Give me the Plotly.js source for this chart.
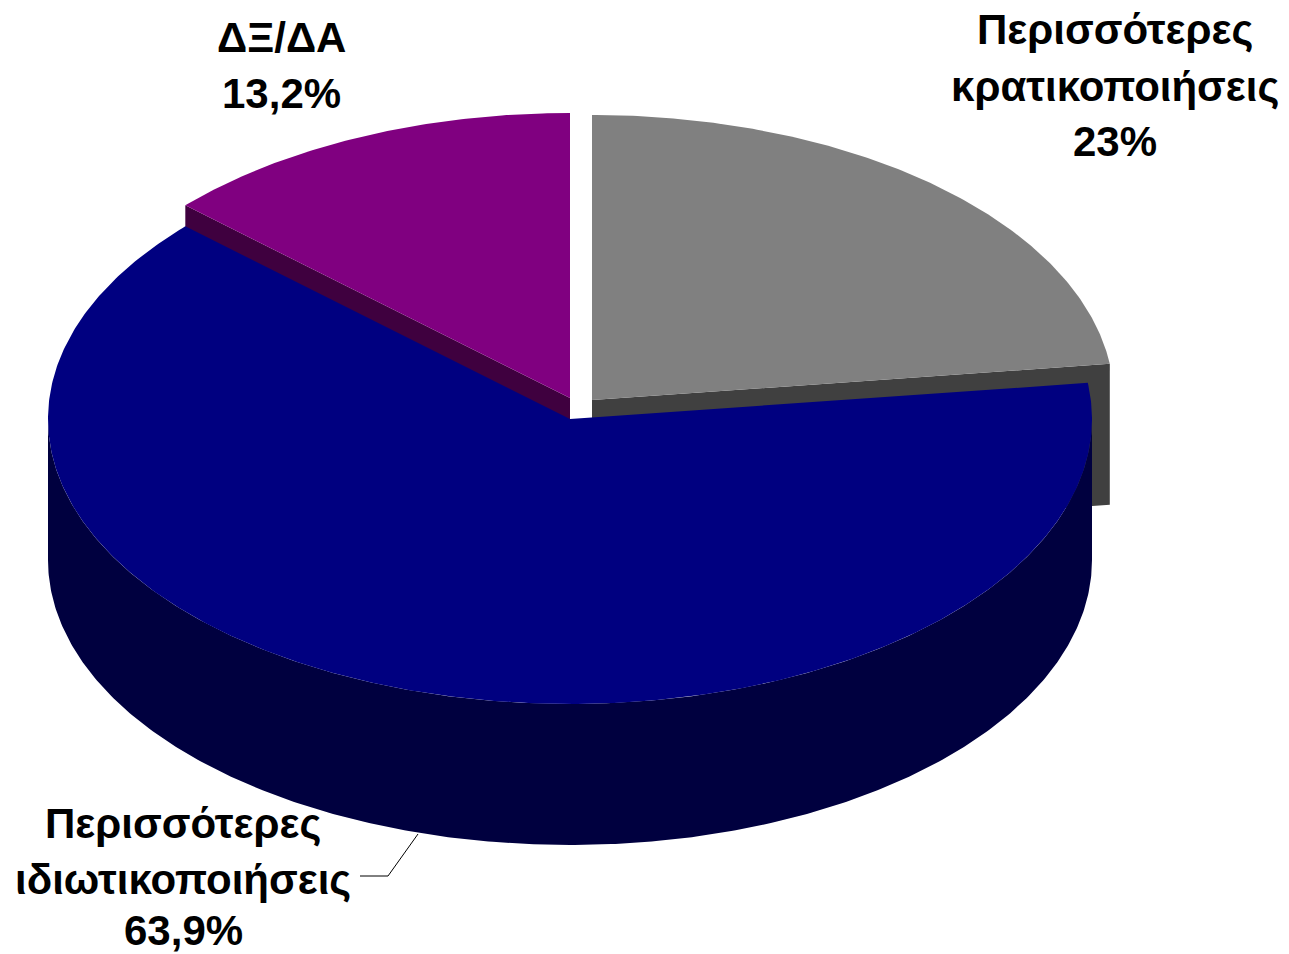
<!DOCTYPE html>
<html>
<head>
<meta charset="utf-8">
<script src="https://cdn.plot.ly/plotly-3.0.1.min.js"></script>
<style>html,body{margin:0;padding:0;background:#fff;}#chart{width:1289px;height:954px;}</style>
</head>
<body>
<div id="chart"></div>
<script>
// ---- data ----
const categories = ['Περισσότερες κρατικοποιήσεις', 'Περισσότερες ιδιωτικοποιήσεις', 'ΔΞ/ΔΑ'];
const values = [23, 63.9, 13.2];
const valueLabels = ['23%', '63,9%', '13,2%'];
const labelLines = [
  ['Περισσότερες', 'κρατικοποιήσεις', '23%'],
  ['Περισσότερες', 'ιδιωτικοποιήσεις', '63,9%'],
  ['ΔΞ/ΔΑ', '13,2%']
];

// ---- style / geometry (not data) ----
const topColors  = ['#808080', '#000080', '#800080'];
const sideColors = ['#404040', '#00003f', '#3f003f'];
const apex = [[592, 400], [570, 419], [570, 398]]; // exploded slice apexes (pixel space)
const RX = 522, RY = 285, DEPTH = 141;
const labelPos = [[1115, [29, 86, 141]], [183, [823, 879, 930]], [281, [37, 93]]];

const total = values.reduce((a, b) => a + b, 0);
const deg = Math.PI / 180;
// angles: start at 90deg, clockwise
const ranges = [];
let a0 = 90;
values.forEach(v => { const a1 = a0 - 360 * v / total; ranges.push([a0, a1]); a0 = a1; });

function pt(c, th, dy) { return [c[0] + RX * Math.cos(th * deg), c[1] - RY * Math.sin(th * deg) + (dy || 0)]; }
function arc(c, from, to, dy) {
  const n = Math.max(2, Math.ceil(Math.abs(to - from) * 2));
  const out = [];
  for (let i = 0; i <= n; i++) out.push(pt(c, from + (to - from) * i / n, dy));
  return out;
}
function poly(points, color) {
  return { type: 'scatter', mode: 'lines', x: points.map(p => p[0]), y: points.map(p => p[1]),
    fill: 'toself', fillcolor: color, line: { width: 0, color: color }, hoverinfo: 'skip', showlegend: false };
}

const traces = [];
// radial faces visible because of explosion: gray at its end edge, purple at its start edge
[[0, 1], [2, 0]].forEach(([i, k]) => {
  const c = apex[i], th = ranges[i][k];
  const r = pt(c, th), rb = pt(c, th, DEPTH);
  traces.push(poly([c, r, rb, [c[0], c[1] + DEPTH], c], sideColors[i]));
});
// tops of the exploded back slices
[0, 2].forEach(i => {
  const c = apex[i];
  traces.push(poly([c].concat(arc(c, ranges[i][0], ranges[i][1])).concat([c]), topColors[i]));
});
// front cylinder side of each slice (portion with sin < 0)
ranges.forEach((r, i) => {
  let lo = r[1], hi = r[0];
  const segs = [];
  for (let k = -2; k <= 1; k++) {
    const fLo = 180 + 360 * k, fHi = 360 + 360 * k;
    const s = Math.max(lo, fLo), e = Math.min(hi, fHi);
    if (e > s) segs.push([s, e]);
  }
  segs.forEach(sg => {
    const c = apex[i];
    const topA = arc(c, sg[0], sg[1]);
    const botA = arc(c, sg[1], sg[0], DEPTH);
    traces.push(poly(topA.concat(botA).concat([topA[0]]), sideColors[i]));
  });
});
// top of the main (blue) slice
{
  const i = 1, c = apex[i];
  traces.push(poly([c].concat(arc(c, ranges[i][0], ranges[i][1])).concat([c]), topColors[i]));
}

const annotations = [];
labelLines.forEach((lines, i) => {
  lines.forEach((t, j) => {
    annotations.push({ x: labelPos[i][0], y: labelPos[i][1][j], xref: 'x', yref: 'y', text: t,
      showarrow: false, xanchor: 'center', yanchor: 'middle', borderpad: 0,
      font: { family: 'Liberation Sans, Arial, sans-serif', size: 42, color: '#000', weight: 'bold' } });
  });
});

const layout = {
  width: 1289, height: 954, margin: { l: 0, r: 0, t: 0, b: 0 },
  paper_bgcolor: '#fff', plot_bgcolor: '#fff', showlegend: false,
  xaxis: { range: [0, 1289], visible: false, fixedrange: true },
  yaxis: { range: [954, 0], visible: false, fixedrange: true },
  annotations: annotations,
  shapes: [{ type: 'path', path: 'M 360 876 L 388 876 L 418 834', line: { color: '#000', width: 1 } }]
};

Plotly.newPlot('chart', traces, layout, { displayModeBar: false, staticPlot: true });
</script>
</body>
</html>
